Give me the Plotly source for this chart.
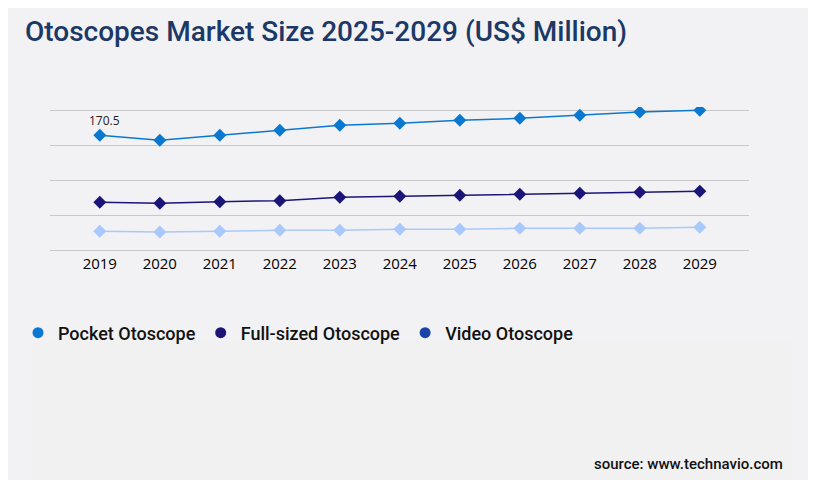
import plotly.graph_objects as go

# Otoscopes market size by product, US$ million
years = ["2019", "2020", "2021", "2022", "2023", "2024", "2025", "2026", "2027", "2028", "2029"]
pocket = [170.5, 163.0, 170.4, 177.8, 185.3, 188.2, 192.7, 195.6, 200.1, 205.0, 207.5]
full_sized = [70.8, 69.4, 71.8, 73.3, 78.2, 79.7, 81.2, 82.7, 84.2, 85.7, 87.2]
video = [27.7, 26.7, 27.7, 29.2, 29.2, 30.7, 30.7, 32.2, 32.2, 32.2, 33.7]

series_names = ["Pocket Otoscope", "Full-sized Otoscope", "Video Otoscope"]
line_colors = ["#0a78d0", "#1b1577", "#a9c8fb"]
legend_colors = ["#0a78d0", "#1b1577", "#1a44a8"]

# page body has an 8px margin, so the figure is a bit smaller and shifted
W, H = 808, 472
plot_l, plot_r, plot_t, plot_b = 42, 741, 99, 245
plot_h = plot_b - plot_t

fig = go.Figure()

# the lines themselves
for name, vals, col in zip(series_names, [pocket, full_sized, video], line_colors):
    fig.add_trace(go.Scatter(
        x=years, y=vals, mode="lines+markers", name=name,
        line=dict(color=col, width=1.5),
        marker=dict(symbol="diamond", size=10, color=col),
        showlegend=False,
    ))

# legend entries use round dots
for name, col in zip(series_names, legend_colors):
    fig.add_trace(go.Scatter(
        x=[None], y=[None], mode="markers", name=name,
        marker=dict(symbol="circle", size=11, color=col),
    ))

# first value label
fig.add_annotation(
    x=0, y=pocket[0], text=f"{pocket[0]}", showarrow=False,
    xshift=5, yshift=15, font=dict(family="Open Sans", size=12, color="#222222"),
)

fig.update_layout(
    width=W, height=H,
    paper_bgcolor="#f2f2f4", plot_bgcolor="#f2f2f4",
    margin=dict(l=plot_l, r=W - plot_r, t=plot_t, b=H - plot_b),
    title=dict(
        text="Otoscopes Market Size 2025-2029 (US$ Million)",
        x=17 / W, xanchor="left", y=1 - 23 / H, yanchor="middle",
        font=dict(family="Roboto", size=28, color="#1c3866", weight=500),
    ),
    xaxis=dict(
        type="category", range=[-0.83, 10.82],
        showgrid=False, showline=False, ticks="",
        tickfont=dict(family="Open Sans", size=15, color="#000000"),
    ),
    yaxis=dict(
        range=[-4.457, 212.457], tickvals=[0, 52, 104, 156, 208],
        showticklabels=False, gridcolor="#c8c8c8", gridwidth=1,
        zeroline=False,
    ),
    legend=dict(
        orientation="h", xref="container", yref="container",
        x=10 / W, xanchor="left", y=1 - 325 / H, yanchor="middle",
        font=dict(family="Roboto", size=18, color="#111111", weight=500),
        itemwidth=30, bgcolor="rgba(0,0,0,0)",
    ),
    shapes=[dict(
        type="rect", xref="paper", yref="paper", layer="below",
        x0=(24 - plot_l) / (plot_r - plot_l), x1=(783 - plot_l) / (plot_r - plot_l),
        y0=(plot_b - H) / plot_h, y1=(plot_b - 333) / plot_h,
        fillcolor="#f1f1f2", line=dict(width=0),
    )],
)

fig.add_annotation(
    text="source: www.technavio.com", xref="paper", yref="paper",
    x=(777 - plot_l) / (plot_r - plot_l), y=(plot_b - 456) / plot_h,
    xanchor="right", yanchor="middle", showarrow=False,
    font=dict(family="Roboto", size=15, color="#111111", weight=500),
)

fig.write_html("out.html")
